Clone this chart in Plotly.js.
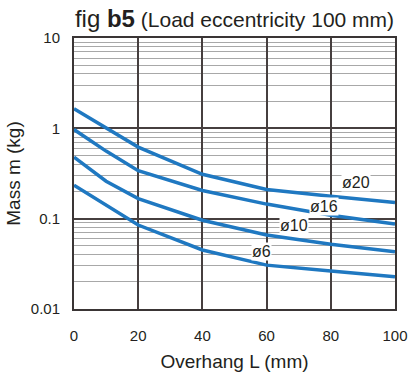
<!DOCTYPE html>
<html><head><meta charset="utf-8">
<script src="https://cdn.plot.ly/plotly-3.0.1.min.js"></script>
<style>html,body{margin:0;padding:0;background:#fff}#chart{width:408px;height:376px}</style>
</head><body><div id="chart"></div>
<script>
var overhang = [0, 10, 20, 40, 60, 80, 100];
var mass20 = [1.65, 1.0, 0.62, 0.31, 0.21, 0.177, 0.151];
var mass16 = [0.97, 0.56, 0.34, 0.205, 0.145, 0.109, 0.087];
var mass10 = [0.48, 0.26, 0.167, 0.096, 0.066, 0.052, 0.043];
var mass6  = [0.234, 0.14, 0.085, 0.045, 0.0306, 0.0263, 0.0228];
var seriesNames = ['ø20', 'ø16', 'ø10', 'ø6'];
var labelX = [87.7, 77.8, 68.4, 58.4];
var labelY = [0.253, 0.1375, 0.0848, 0.0438];
var xTicks = [0, 20, 40, 60, 80, 100];
var yTicks = [0.01, 0.1, 1, 10];
var yTickText = ['0.01', '0.1', '1', '10'];

var blue = '#1f78c1';
var allSeries = [mass20, mass16, mass10, mass6];
var data = allSeries.map(function(s, i){
  return {x: overhang, y: s, type: 'scatter', mode: 'lines', name: seriesNames[i],
    line: {color: blue, width: 3.5}, hoverinfo: 'skip'};
});
var font = '"Liberation Sans", Arial, Helvetica, sans-serif';
var annotations = seriesNames.map(function(n, i){
  return {x: labelX[i], y: Math.log10(labelY[i]), xref: 'x', yref: 'y', text: n, showarrow: false,
    font: {family: font, size: 16, color: '#231f20'}, bgcolor: '#ffffff', borderpad: 0,
    xanchor: 'center', yanchor: 'middle'};
});
var layout = {
  width: 408, height: 376,
  margin: {l: 74, r: 12.5, t: 37.5, b: 67},
  paper_bgcolor: '#fff', plot_bgcolor: '#fff',
  showlegend: false,
  font: {family: font, color: '#231f20'},
  title: {text: '<span style="font-size:24px">fig <b>b5</b></span> (Load eccentricity 100 mm)',
    font: {family: font, size: 21, color: '#231f20'}, x: 0.5, xref: 'paper', xanchor: 'center',
    y: 0.948, yref: 'container', yanchor: 'middle'},
  xaxis: {range: [0, 100], tickvals: xTicks, ticks: '', showgrid: true, gridcolor: '#463f3f', gridwidth: 2,
    zeroline: false, showline: true, mirror: true, linecolor: '#3a3535', linewidth: 2,
    tickfont: {family: font, size: 15, color: '#231f20'}, ticklabelstandoff: 12,
    title: {text: 'Overhang L (mm)', font: {family: font, size: 19, color: '#231f20'}, standoff: 12}},
  yaxis: {type: 'log', range: [-2, 1], tickvals: yTicks, ticktext: yTickText, ticks: '',
    showgrid: true, gridcolor: '#463f3f', gridwidth: 2, zeroline: false,
    showline: true, mirror: true, linecolor: '#3a3535', linewidth: 2,
    minor: {dtick: 'D1', showgrid: true, gridcolor: '#a8a8a8', gridwidth: 1, ticks: ''},
    tickfont: {family: font, size: 15, color: '#231f20'}, ticklabelstandoff: 9,
    title: {text: 'Mass m (kg)', font: {family: font, size: 19, color: '#231f20'}, standoff: 5}},
  annotations: annotations
};
Plotly.newPlot('chart', data, layout, {displayModeBar: false, staticPlot: true});
</script></body></html>
